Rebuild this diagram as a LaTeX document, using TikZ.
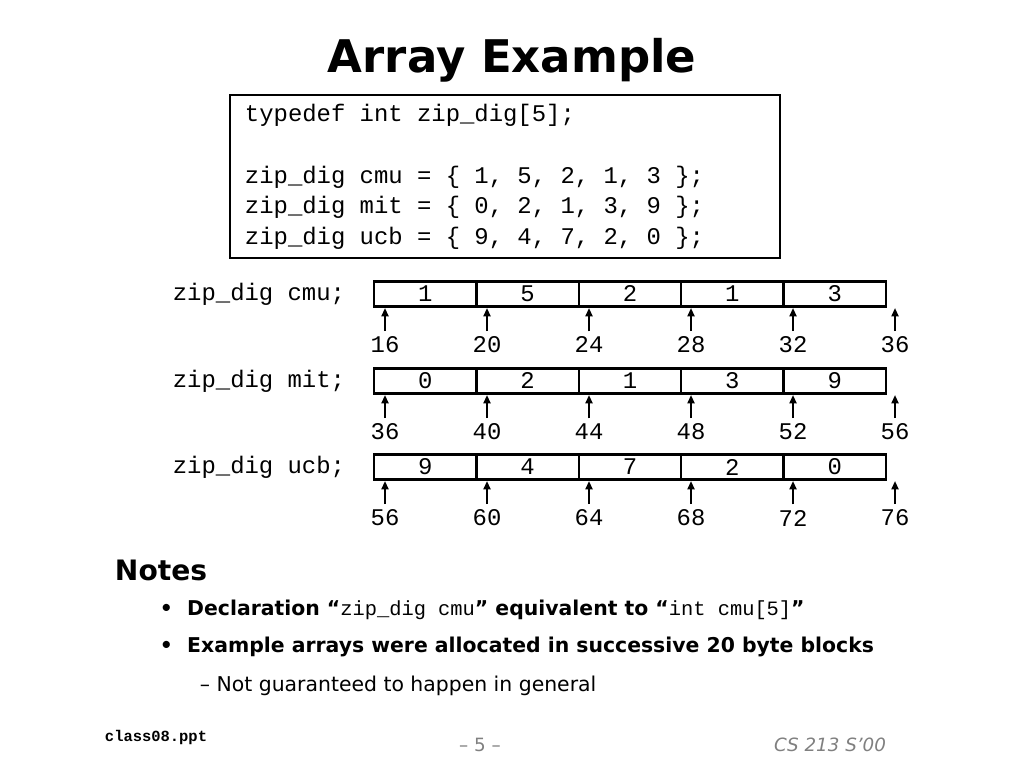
\documentclass[tikz,border=0pt]{standalone}
\usepackage{fontspec}
\setmainfont{DejaVu Sans}
\setmonofont{Liberation Mono}
\usetikzlibrary{positioning,arrows.meta}
\tikzset{
  cell/.style={draw,line width=1.6pt,minimum width=102.4*0.025cm,minimum height=25*0.025cm,inner sep=0pt,font=\ttfamily\fontsize{17}{17}\selectfont},
  addr/.style={font=\ttfamily\fontsize{17}{17}\selectfont,inner sep=1pt},
  decl/.style={font=\ttfamily\fontsize{17}{17}\selectfont,anchor=east},
  ptr/.style={-{Triangle[length=6pt,width=5pt]},line width=1.4pt}
}
\begin{document}
\begin{tikzpicture}[x=0.025cm,y=-0.025cm]
  \useasboundingbox (0,0) rectangle (1024,768);

  \node[font=\bfseries\fontsize{32}{32}\selectfont] (title) at (512,60) {Array Example};

  \draw[line width=1.4pt] (230,95) rectangle (780,258);
  \node[anchor=west,font=\ttfamily\fontsize{17}{17}\selectfont] (code1) at (240,115) {typedef int zip\_dig[5];};
  \node[anchor=west,font=\ttfamily\fontsize{17}{17}\selectfont] (code2) at (240,177) {zip\_dig cmu = \{ 1, 5, 2, 1, 3 \};};
  \node[anchor=west,font=\ttfamily\fontsize{17}{17}\selectfont] (code3) at (240,207) {zip\_dig mit = \{ 0, 2, 1, 3, 9 \};};
  \node[anchor=west,font=\ttfamily\fontsize{17}{17}\selectfont] (code4) at (240,238) {zip\_dig ucb = \{ 9, 4, 7, 2, 0 \};};

  % arrays
  \foreach \name/\y/\vals/\base in {cmu/294/{1,5,2,1,3}/16, mit/381/{0,2,1,3,9}/36, ucb/467/{9,4,7,2,0}/56} {
    \node[decl] (lab\name) at (350,\y) {zip\_dig \name;};
    \foreach \v [count=\i from 0] in \vals {
      \node[cell] (\name\i) at (425.2+102.4*\i,\y) {\v};
    }
    \foreach \i in {0,...,5} {
      \pgfmathtruncatemacro{\a}{\base+4*\i}
      \node[addr] (a\name\i) at (385+102*\i,\y+51) {\a};
      \coordinate (t\name\i) at (385+102*\i,\y+14);
      \draw[ptr] (a\name\i.north) ++(0,-4) -- (t\name\i);
    }
  }

  % notes
  \node[anchor=west,font=\bfseries\fontsize{20}{20}\selectfont] (notes) at (110,570) {Notes};
  \node[anchor=west,font=\bfseries\fontsize{14.5}{14.5}\selectfont] (n1) at (155,610)
    {\textbullet\ \ Declaration ``{\mdseries\ttfamily zip\_dig cmu}'' equivalent to ``{\mdseries\ttfamily int cmu[5]}''};
  \node[anchor=west,font=\bfseries\fontsize{14.5}{14.5}\selectfont] (n2) at (155,647)
    {\textbullet\ \ Example arrays were allocated in successive 20 byte blocks};
  \node[anchor=west,font=\fontsize{14.5}{14.5}\selectfont] (n3) at (195,686)
    {– Not guaranteed to happen in general};

  % footer
  \node[anchor=west,font=\ttfamily\bfseries\fontsize{11}{11}\selectfont] (file) at (100,737) {class08.ppt};
  \node[text=gray,font=\fontsize{13}{13}\selectfont] (page) at (480,745) {– 5 –};
  \node[text=gray,font=\itshape\fontsize{13}{13}\selectfont] (course) at (830,745) {CS 213 S’00};
\end{tikzpicture}
\end{document}
